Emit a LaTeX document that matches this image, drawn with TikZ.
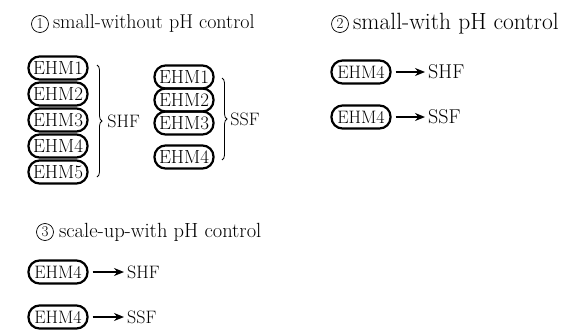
\documentclass[tikz,border=0pt]{standalone}
\usepackage{fontspec}
\usetikzlibrary{arrows.meta, positioning, decorations.pathreplacing}

\begin{document}
\begin{tikzpicture}[x=1pt, y=-1pt,
    pill/.style={draw, line width=2.2pt, rounded corners=11pt, minimum width=59pt,
        minimum height=23pt, inner sep=0.5pt, font=\fontsize{19}{19}\selectfont},
    circ/.style={circle, draw, line width=0.7pt, minimum size=17pt, inner sep=0pt,
        font=\fontsize{15}{15}\selectfont},
    title/.style={anchor=west, inner sep=0pt},
    lbl/.style={anchor=west, inner sep=0pt},
    arr/.style={-{Stealth[length=10pt, width=8pt]}, line width=1.5pt,
        shorten <=4pt, shorten >=3pt},
    brc/.style={decorate, decoration={brace, amplitude=5pt}, line width=0.8pt}]
    \useasboundingbox (0,0) rectangle (561,329);

    % Titles
    \node[circ] (n1) at (40, 24) {1};
    \node[title, right=4pt of n1, font=\fontsize{20}{20}\selectfont] (t1) {small-without pH control};
    \node[circ] (n2) at (340, 24) {2};
    \node[title, right=4pt of n2, font=\fontsize{23.5}{23.5}\selectfont] (t2) {small-with pH control};
    \node[circ] (n3) at (45, 232) {3};
    \node[title, right=5pt of n3, font=\fontsize{20.5}{20.5}\selectfont] (t3) {scale-up-with pH control};

    % Section 1: two stacks with braces
    \foreach \i/\y in {1/68, 2/94, 3/120, 4/146, 5/172} {
        \node[pill] (a\i) at (58, \y) {EHM\i};
    }
    \foreach \i/\y in {1/77, 2/100, 3/123, 4/157} {
        \node[pill] (b\i) at (184, \y) {EHM\i};
    }
    \coordinate (bra1) at (97, 65);
    \coordinate (bra2) at (97, 177);
    \coordinate (brb1) at (222, 78);
    \coordinate (brb2) at (222, 160);
    \draw[brc] (bra1) -- (bra2)
        node[midway, right=10pt, lbl, font=\fontsize{18}{18}\selectfont] (shf1) {SHF};
    \draw[brc] (brb1) -- (brb2)
        node[midway, right=8pt, lbl, font=\fontsize{18}{18}\selectfont] (ssf1) {SSF};

    % Section 2
    \node[pill, font=\fontsize{18}{18}\selectfont] (c1) at (361, 72) {EHM4};
    \node[pill, font=\fontsize{18}{18}\selectfont] (c2) at (361, 117) {EHM4};
    \node[lbl, font=\fontsize{20}{20}\selectfont] (shf2) at (428, 72) {SHF};
    \node[lbl, font=\fontsize{20}{20}\selectfont] (ssf2) at (428, 117) {SSF};
    \draw[arr] (c1) -- (shf2);
    \draw[arr] (c2) -- (ssf2);

    % Section 3
    \node[pill, font=\fontsize{18}{18}\selectfont] (d1) at (58, 272) {EHM4};
    \node[pill, font=\fontsize{18}{18}\selectfont] (d2) at (58, 317) {EHM4};
    \node[lbl, font=\fontsize{18}{18}\selectfont] (shf3) at (127, 272) {SHF};
    \node[lbl, font=\fontsize{18}{18}\selectfont] (ssf3) at (127, 317) {SSF};
    \draw[arr] (d1) -- (shf3);
    \draw[arr] (d2) -- (ssf3);

\end{tikzpicture}
\end{document}
